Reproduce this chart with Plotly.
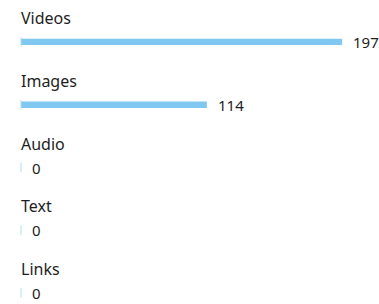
import plotly.graph_objects as go

categories = ["Videos", "Images", "Audio", "Text", "Links"]
values = [197, 114, 0, 0, 0]

bar_color = "#80c8f2"
font_family = "Noto Sans, Open Sans, sans-serif"
text_color = "#1e1e1e"

fig = go.Figure()
fig.add_trace(go.Bar(
    y=categories, x=values, orientation="h",
    marker=dict(color=bar_color, line=dict(width=0)),
    width=0.1, hoverinfo="skip",
))
# thin marker at zero for every category (visible for zero-value rows)
fig.add_trace(go.Scatter(
    y=categories, x=[0] * len(categories), mode="markers",
    marker=dict(symbol="line-ns", size=7, line=dict(width=1, color="#b5dcf5")),
    hoverinfo="skip", cliponaxis=False,
))

annotations = []
for c, v in zip(categories, values):
    annotations.append(dict(x=0, y=c, xref="x", yref="y", text=c, showarrow=False,
                            xanchor="left", yanchor="middle", yshift=24, xshift=-2,
                            font=dict(size=16, color=text_color, family=font_family)))
    annotations.append(dict(x=v, y=c, xref="x", yref="y", text=str(v), showarrow=False,
                            xanchor="left", yanchor="middle", xshift=9, yshift=0,
                            font=dict(size=15, color=text_color, family=font_family)))

fig.update_layout(
    width=379, height=304,
    margin=dict(l=21, r=0, t=0, b=0),
    paper_bgcolor="white", plot_bgcolor="white",
    showlegend=False,
    annotations=annotations,
    xaxis=dict(range=[0, 219.6], visible=False, fixedrange=True),
    yaxis=dict(range=[4.175, -0.669], visible=False, fixedrange=True),
)

fig.write_html("out.html", config={"displayModeBar": False},
               post_script="document.body.style.margin='0';")
